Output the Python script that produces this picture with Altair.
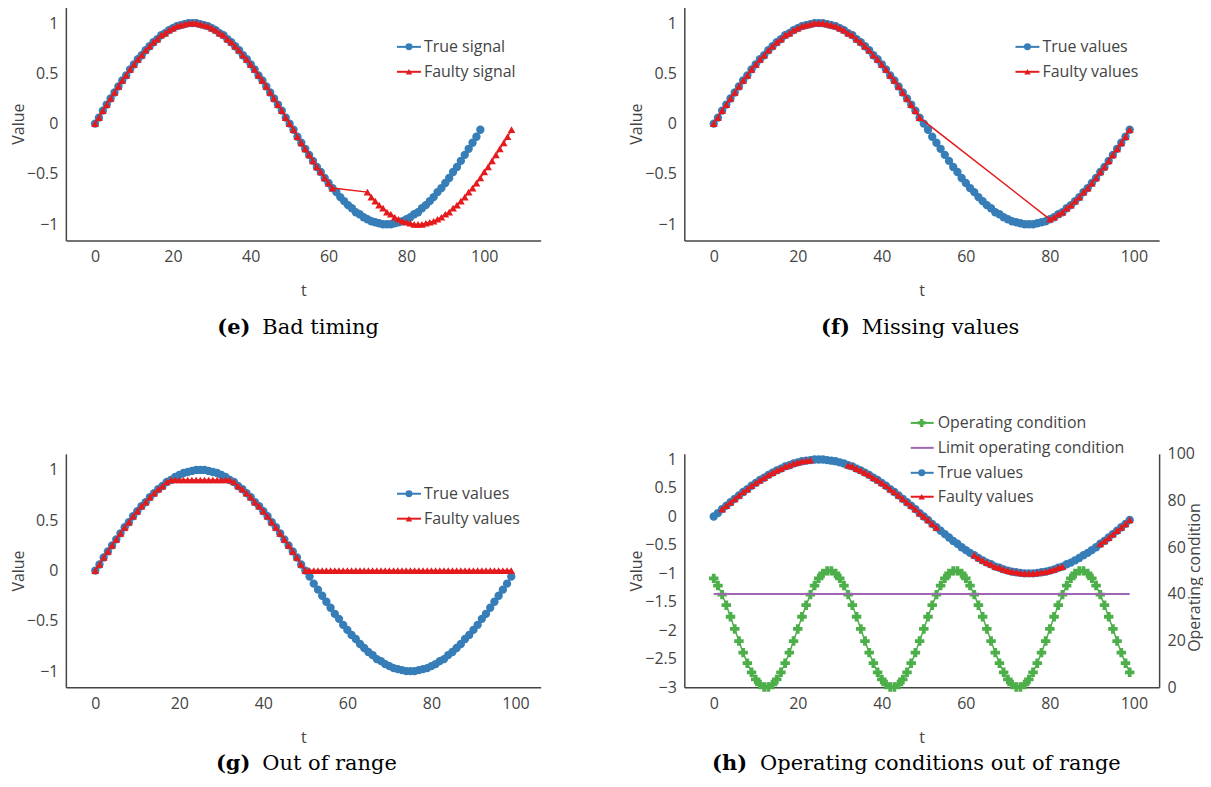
import altair as alt
import pandas as pd

# ---------------- data ----------------
t = list(range(100))
true_values = [
    0.00, 0.06, 0.13, 0.19, 0.25, 0.31, 0.37, 0.43, 0.48, 0.54, 0.59, 0.64, 0.68,
    0.73, 0.77, 0.81, 0.84, 0.88, 0.90, 0.93, 0.95, 0.97, 0.98, 0.99, 1.00, 1.00,
    1.00, 0.99, 0.98, 0.97, 0.95, 0.93, 0.90, 0.88, 0.84, 0.81, 0.77, 0.73, 0.68,
    0.64, 0.59, 0.54, 0.48, 0.43, 0.37, 0.31, 0.25, 0.19, 0.13, 0.06, 0.00,
    -0.06, -0.13, -0.19, -0.25, -0.31, -0.37, -0.43, -0.48, -0.54, -0.59, -0.64, -0.68,
    -0.73, -0.77, -0.81, -0.84, -0.88, -0.90, -0.93, -0.95, -0.97, -0.98, -0.99, -1.00, -1.00,
    -1.00, -0.99, -0.98, -0.97, -0.95, -0.93, -0.90, -0.88, -0.84, -0.81, -0.77, -0.73,
    -0.68, -0.64, -0.59, -0.54, -0.48, -0.43, -0.37, -0.31, -0.25, -0.19, -0.13, -0.06,
]
operating_condition = [
    46.65, 43.58, 39.69, 35.17, 30.20, 25.00, 19.80, 14.83, 10.31, 6.42,
    3.35, 1.22, 0.14, 0.14, 1.22, 3.35, 6.42, 10.31, 14.83, 19.80,
    25.00, 30.20, 35.17, 39.69, 43.58, 46.65, 48.78, 49.86, 49.86, 48.78,
    46.65, 43.58, 39.69, 35.17, 30.20, 25.00, 19.80, 14.83, 10.31, 6.42,
    3.35, 1.22, 0.14, 0.14, 1.22, 3.35, 6.42, 10.31, 14.83, 19.80,
    25.00, 30.20, 35.17, 39.69, 43.58, 46.65, 48.78, 49.86, 49.86, 48.78,
    46.65, 43.58, 39.69, 35.17, 30.20, 25.00, 19.80, 14.83, 10.31, 6.42,
    3.35, 1.22, 0.14, 0.14, 1.22, 3.35, 6.42, 10.31, 14.83, 19.80,
    25.00, 30.20, 35.17, 39.69, 43.58, 46.65, 48.78, 49.86, 49.86, 48.78,
    46.65, 43.58, 39.69, 35.17, 30.20, 25.00, 19.80, 14.83, 10.31, 6.42,
]
limit_t = [0, 99]
limit_values = [40, 40]

e_gap_start = 62          # first delayed sample
e_delay = 8               # delay of the faulty samples
f_missing = (50, 79)      # missing samples (inclusive)
g_low, g_high = 0.0, 0.9  # clipping range
h_faulty_segments = [(2, 23), (32, 53), (62, 83), (92, 99)]

# ---------------- tables ----------------
df_true = pd.DataFrame({"t": t, "v": true_values})

e_rows = [(t[i], true_values[i]) for i in range(e_gap_start)] + \
         [(t[i] + e_delay, true_values[i]) for i in range(e_gap_start, 100)]
df_e = pd.DataFrame(e_rows, columns=["t", "v"])

df_f = pd.DataFrame([(t[i], true_values[i]) for i in range(100)
                     if not (f_missing[0] <= t[i] <= f_missing[1])], columns=["t", "v"])

df_g = pd.DataFrame({"t": t, "v": [min(max(v, g_low), g_high) for v in true_values]})

h_rows = []
for s, (a, b) in enumerate(h_faulty_segments):
    for i in range(a, b + 1):
        h_rows.append((t[i], true_values[i], s))
df_h = pd.DataFrame(h_rows, columns=["t", "v", "seg"])

df_op = pd.DataFrame({"t": t, "op": operating_condition})
df_lim = pd.DataFrame({"t": limit_t, "op": limit_values})
one = pd.DataFrame({"k": [0]})

# ---------------- style ----------------
BLUE = "#377eb8"
RED = "#e41a1c"
GREEN = "#4daf4a"
PURPLE = "#a066b4"
TXT = "#444444"
FONT = "Open Sans"
FS = 16
SERIF = "DejaVu Serif"
W, H = 476, 234
CIRC = 70
TRI = 60
CROSS = 90


def x_enc(domain):
    return alt.X("t:Q", scale=alt.Scale(domain=domain, nice=False, zero=False),
                 axis=alt.Axis(values=[0, 20, 40, 60, 80, 100], title="t", titlePadding=18,
                               labelFlush=False))


def y_enc(field, domain, values, title, orient="left", fmt="~g"):
    return alt.Y(field, scale=alt.Scale(domain=domain, nice=False, zero=False),
                 axis=alt.Axis(values=values, title=title, orient=orient, format=fmt,
                               labelFlush=False, titlePadding=0))


def series(df, color, shape, size, xd, yd, yvals, detail=None):
    enc = dict(x=x_enc(xd), y=y_enc("v:Q", yd, yvals, "Value"))
    if detail:
        enc["detail"] = detail
    line = alt.Chart(df).mark_line(color=color, strokeWidth=1.5).encode(**enc)
    pts = alt.Chart(df).mark_point(shape=shape, filled=True, color=color, size=size,
                                   opacity=1).encode(**enc)
    return [line, pts]


def legend_item(y, color, shape, size, label, x0=332, x1=356, xs=344, xt=359):
    base = alt.Chart(one)
    out = [base.mark_rule(color=color, strokeWidth=2).encode(
        x=alt.value(x0), x2=alt.value(x1), y=alt.value(y))]
    if shape:
        out.append(base.mark_point(shape=shape, filled=True, color=color, size=size * 0.7,
                                   opacity=1).encode(x=alt.value(xs), y=alt.value(y)))
    out.append(base.mark_text(text=label, align="left", baseline="middle", font=FONT,
                              fontSize=FS, color=TXT).encode(x=alt.value(xt), y=alt.value(y)))
    return out


def caption(xr, xl, letter, text, cy):
    base = alt.Chart(one)
    return [
        base.mark_text(text=letter, font=SERIF, fontWeight="bold", fontSize=21, align="right",
                       baseline="middle", color="black").encode(x=alt.value(xr), y=alt.value(cy)),
        base.mark_text(text=text, font=SERIF, fontSize=21, align="left",
                       baseline="middle", color="black").encode(x=alt.value(xl), y=alt.value(cy)),
    ]


Y1 = [-1.16, 1.16]
YV = [-1, -0.5, 0, 0.5, 1]
XD_E = [-7.5, 114.5]
XD = [-7, 106]
CAP_TOP = 322
CAP_BOTTOM = 311

# panel e
pe = alt.layer(
    *series(df_true, BLUE, "circle", CIRC, XD_E, Y1, YV),
    *series(df_e, RED, "triangle-up", TRI, XD_E, Y1, YV),
    *legend_item(40, BLUE, "circle", CIRC, "True signal"),
    *legend_item(65, RED, "triangle-up", TRI, "Faulty signal"),
    *caption(185, 197, "(e)", "Bad timing", CAP_TOP),
).properties(width=W, height=H)

# panel f
pf = alt.layer(
    *series(df_true, BLUE, "circle", CIRC, XD, Y1, YV),
    *series(df_f, RED, "triangle-up", TRI, XD, Y1, YV),
    *legend_item(40, BLUE, "circle", CIRC, "True values"),
    *legend_item(65, RED, "triangle-up", TRI, "Faulty values"),
    *caption(166, 178, "(f)", "Missing values", CAP_TOP),
).properties(width=W, height=H)

# panel g
pg = alt.layer(
    *series(df_true, BLUE, "circle", CIRC, XD, Y1, YV),
    *series(df_g, RED, "triangle-up", TRI, XD, Y1, YV),
    *legend_item(40, BLUE, "circle", CIRC, "True values"),
    *legend_item(65, RED, "triangle-up", TRI, "Faulty values"),
    *caption(185, 197, "(g)", "Out of range", CAP_BOTTOM),
).properties(width=W, height=H)

# panel h
YH = [-3, 1.1]
YHV = [-3, -2.5, -2, -1.5, -1, -0.5, 0, 0.5, 1]
right_enc = dict(x=x_enc(XD), y=y_enc("op:Q", [0, 100], [0, 20, 40, 60, 80, 100],
                                      None, orient="right", fmt="d"))
right = alt.layer(
    alt.Chart(df_op).mark_line(color=GREEN, strokeWidth=1.5).encode(**right_enc),
    alt.Chart(df_op).mark_point(shape="cross", filled=True, color=GREEN, size=CROSS,
                                opacity=1).encode(**right_enc),
    alt.Chart(df_lim).mark_line(color=PURPLE, strokeWidth=2).encode(**right_enc),
)
left = alt.layer(
    *series(df_true, BLUE, "circle", CIRC, XD, YH, YHV),
    *series(df_h, RED, "triangle-up", TRI, XD, YH, YHV, detail="seg:N"),
)
right_title = alt.Chart(one).mark_text(
    text="Operating condition", angle=270, align="center", baseline="middle",
    font=FONT, fontSize=FS, color=TXT,
).encode(x=alt.value(W + 36), y=alt.value(124))

LX = (227, 250, 238, 254)
ph = alt.layer(
    right, left,
    *legend_item(-31, GREEN, "cross", CROSS, "Operating condition", *LX),
    *legend_item(-6, PURPLE, None, 0, "Limit operating condition", *LX),
    *legend_item(19, BLUE, "circle", CIRC, "True values", *LX),
    *legend_item(43, RED, "triangle-up", TRI, "Faulty values", *LX),
    *caption(63, 76, "(h)", "Operating conditions out of range", CAP_BOTTOM),
    right_title,
).resolve_scale(y="independent").properties(width=W, height=H)

top = alt.hconcat(pe, pf, spacing=88)
bottom = alt.hconcat(pg, ph, spacing=88)

chart = alt.vconcat(top, bottom, spacing=77).properties(
    padding={"left": 2, "top": -2, "right": 0, "bottom": 0}
).configure_view(stroke=None).configure_axis(
    grid=False, ticks=False, domainColor=TXT, domainWidth=1.5,
    labelColor=TXT, labelFont=FONT, labelFontSize=FS, labelPadding=8,
    titleFont=FONT, titleFontSize=FS, titleFontWeight="normal", titleColor=TXT,
)

chart.save("out.html", embed_options={"renderer": "svg", "actions": False})
